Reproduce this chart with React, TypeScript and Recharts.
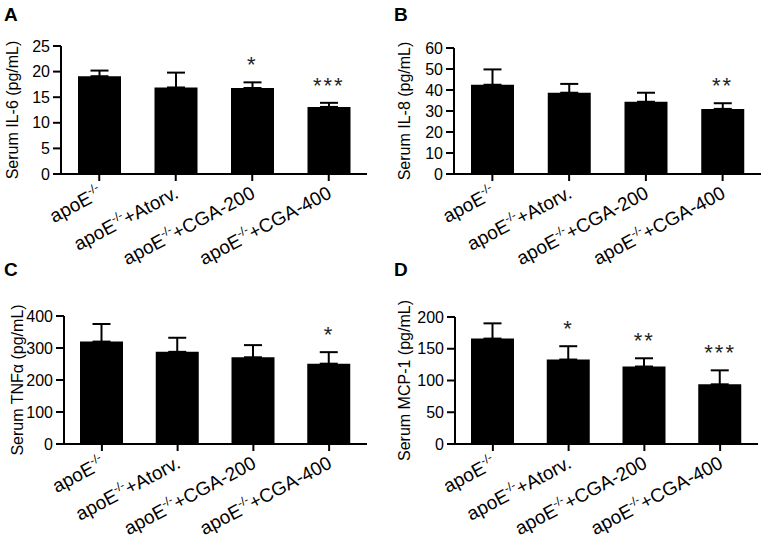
import React from "react";
import { ComposedChart, Bar, ErrorBar, Scatter, XAxis, YAxis, Label } from "recharts";

const groups = ["apoE-/-", "apoE-/-+Atorv.", "apoE-/-+CGA-200", "apoE-/-+CGA-400"];

const il6Mean = [19.1, 16.9, 16.8, 13.1];
const il6Err = [1.1, 2.9, 1.1, 0.8];
const il6Sig = ["", "", "*", "***"];
const il6Ticks = [0, 5, 10, 15, 20, 25];

const il8Mean = [42.5, 38.7, 34.4, 31.0];
const il8Err = [7.3, 4.2, 4.3, 2.7];
const il8Sig = ["", "", "", "**"];
const il8Ticks = [0, 10, 20, 30, 40, 50, 60];

const tnfMean = [320, 288, 271, 251];
const tnfErr = [55, 44, 38, 36];
const tnfSig = ["", "", "", "*"];
const tnfTicks = [0, 100, 200, 300, 400];

const mcpMean = [166, 133, 122, 94];
const mcpErr = [24, 21, 13, 22];
const mcpSig = ["", "*", "**", "***"];
const mcpTicks = [0, 50, 100, 150, 200];

const FONT = '"Liberation Sans", Arial, sans-serif';

const buildRows = (mean: number[], err: number[], sig: string[]) =>
  groups.map((cat, i) => ({
    cat,
    mean: mean[i],
    errRange: [0, err[i]],
    starY: mean[i] + err[i],
    sig: sig[i],
  }));

const GroupTick = (props: any) => {
  const { x, y, payload } = props;
  const [base, rest] = String(payload.value).split("-/-");
  return (
    <g transform={`translate(${x + 4},${y + 16}) rotate(-28)`}>
      <text textAnchor="end" fontSize={19} fill="#000" fontFamily={FONT}>
        <tspan>{base}</tspan>
        <tspan fontSize={12} dy={-8}>-/-</tspan>
        <tspan dy={8}>{rest}</tspan>
      </text>
    </g>
  );
};

const StarMark = (props: any) => {
  const { cx, cy, payload } = props;
  if (!payload || !payload.sig) return <g />;
  return (
    <text
      x={cx}
      y={cy - 10}
      textAnchor="middle"
      fontSize={22}
      letterSpacing={2}
      fill="#222"
      fontFamily={FONT}
    >
      {payload.sig}
    </text>
  );
};

interface PanelProps {
  left: number;
  top: number;
  mean: number[];
  err: number[];
  sig: string[];
  ticks: number[];
  title: string;
  titleX: number;
  yWidth: number;
  marginTop: number;
  marginRight: number;
}

const Panel = ({ left, top, mean, err, sig, ticks, title, titleX, yWidth, marginTop, marginRight }: PanelProps) => {
  const rows = buildRows(mean, err, sig);
  return (
    <div style={{ position: "absolute", left, top }}>
      <ComposedChart
        width={383}
        height={270}
        data={rows}
        margin={{ top: marginTop, right: marginRight, bottom: 0, left: 0 }}
      >
        <XAxis
          dataKey="cat"
          interval={0}
          height={96}
          tickSize={7}
          tickMargin={0}
          tick={<GroupTick />}
          axisLine={{ stroke: "#000", strokeWidth: 2 }}
          tickLine={{ stroke: "#000", strokeWidth: 2 }}
        />
        <YAxis
          domain={[0, ticks[ticks.length - 1]]}
          ticks={ticks}
          interval={0}
          width={yWidth}
          tickSize={8}
          tickMargin={3}
          axisLine={{ stroke: "#000", strokeWidth: 2 }}
          tickLine={{ stroke: "#000", strokeWidth: 2 }}
          tick={{ fill: "#000", fontSize: 16, fontFamily: FONT }}
        >
          <Label
            content={(p: any) => {
              const vb = p.viewBox || {};
              const cy = (vb.y || 0) + (vb.height || 0) / 2;
              return (
                <text
                  x={titleX}
                  y={cy}
                  transform={`rotate(-90, ${titleX}, ${cy})`}
                  textAnchor="middle"
                  dominantBaseline="central"
                  fontSize={16}
                  fill="#000"
                  fontFamily={FONT}
                >
                  {title}
                </text>
              );
            }}
          />
        </YAxis>
        <Bar dataKey="mean" fill="#000" barSize={43} isAnimationActive={false}>
          <ErrorBar dataKey="errRange" direction="y" width={9} strokeWidth={2} stroke="#000" />
        </Bar>
        <Scatter dataKey="starY" shape={<StarMark />} isAnimationActive={false} />
      </ComposedChart>
    </div>
  );
};

export default function App() {
  return (
    <div
      style={{
        position: "absolute",
        left: 0,
        top: 0,
        width: 766,
        height: 540,
        background: "#fff",
        fontFamily: FONT,
      }}
    >
      <svg width={766} height={540} style={{ position: "absolute", left: 0, top: 0 }}>
        <text x={4} y={21} fontSize={19} fontWeight="bold" fill="#000" fontFamily={FONT}>A</text>
        <text x={394} y={21} fontSize={19} fontWeight="bold" fill="#000" fontFamily={FONT}>B</text>
        <text x={4} y={276} fontSize={19} fontWeight="bold" fill="#000" fontFamily={FONT}>C</text>
        <text x={394} y={276} fontSize={19} fontWeight="bold" fill="#000" fontFamily={FONT}>D</text>
      </svg>
      <Panel left={0} top={0} mean={il6Mean} err={il6Err} sig={il6Sig} ticks={il6Ticks}
        title="Serum IL-6 (pg/mL)" titleX={12} yWidth={61} marginTop={46} marginRight={16} />
      <Panel left={383} top={0} mean={il8Mean} err={il8Err} sig={il8Sig} ticks={il8Ticks}
        title="Serum IL-8 (pg/mL)" titleX={21} yWidth={71} marginTop={48} marginRight={5} />
      <Panel left={0} top={270} mean={tnfMean} err={tnfErr} sig={tnfSig} ticks={tnfTicks}
        title="Serum TNFα (pg/mL)" titleX={17} yWidth={64} marginTop={46} marginRight={16} />
      <Panel left={383} top={270} mean={mcpMean} err={mcpErr} sig={mcpSig} ticks={mcpTicks}
        title="Serum MCP-1 (pg/mL)" titleX={21} yWidth={72} marginTop={47} marginRight={8} />
    </div>
  );
}
